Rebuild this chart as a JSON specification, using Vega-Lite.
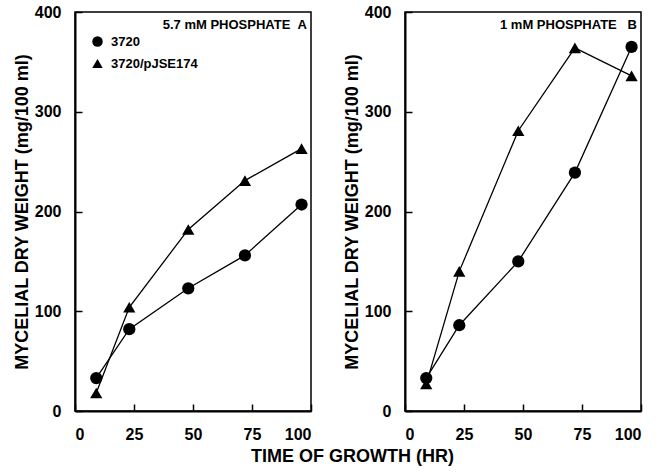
{
  "$schema": "https://vega.github.io/schema/vega-lite/v6.json",
  "background": "white",
  "padding": {"left": 12, "top": 3, "right": 5, "bottom": 5},
  "config": {
    "font": "Liberation Sans",
    "view": {"stroke": "black", "strokeWidth": 1.5},
    "axis": {
      "grid": false,
      "domainColor": "black",
      "domainWidth": 2,
      "tickColor": "black",
      "tickWidth": 1.5,
      "tickSize": -7,
      "labelFont": "Liberation Sans",
      "labelFontSize": 16,
      "labelFontWeight": "bold",
      "labelColor": "black",
      "titleFont": "Liberation Sans",
      "titleFontSize": 18,
      "titleFontWeight": "bold",
      "titleColor": "black"
    },
    "axisX": {"labelPadding": 22.5, "titlePadding": 5},
    "axisY": {"labelPadding": 21, "titlePadding": 3},
    "title": {"font": "Liberation Sans", "fontSize": 13, "fontWeight": "bold", "color": "black", "anchor": "end", "frame": "group", "offset": -28}
  },
  "bounds": "flush",
  "spacing": 94,
  "datasets": {
    "growth": [
      {"panel": "A", "strain": "3720", "time": 9, "weight": 33},
      {"panel": "A", "strain": "3720", "time": 23, "weight": 82},
      {"panel": "A", "strain": "3720", "time": 48, "weight": 123},
      {"panel": "A", "strain": "3720", "time": 72, "weight": 156},
      {"panel": "A", "strain": "3720", "time": 96, "weight": 207},
      {"panel": "A", "strain": "3720/pJSE174", "time": 9, "weight": 18},
      {"panel": "A", "strain": "3720/pJSE174", "time": 23, "weight": 104},
      {"panel": "A", "strain": "3720/pJSE174", "time": 48, "weight": 182},
      {"panel": "A", "strain": "3720/pJSE174", "time": 72, "weight": 231},
      {"panel": "A", "strain": "3720/pJSE174", "time": 96, "weight": 263},
      {"panel": "B", "strain": "3720", "time": 9, "weight": 33},
      {"panel": "B", "strain": "3720", "time": 23, "weight": 86},
      {"panel": "B", "strain": "3720", "time": 48, "weight": 150},
      {"panel": "B", "strain": "3720", "time": 72, "weight": 239},
      {"panel": "B", "strain": "3720", "time": 96, "weight": 365},
      {"panel": "B", "strain": "3720/pJSE174", "time": 9, "weight": 27},
      {"panel": "B", "strain": "3720/pJSE174", "time": 23, "weight": 140},
      {"panel": "B", "strain": "3720/pJSE174", "time": 48, "weight": 281},
      {"panel": "B", "strain": "3720/pJSE174", "time": 72, "weight": 364},
      {"panel": "B", "strain": "3720/pJSE174", "time": 96, "weight": 336}
    ]
  },
  "hconcat": [
    {
      "width": 236,
      "height": 399,
      "data": {"name": "growth"},
      "transform": [{"filter": "datum.panel === 'A'"}],
      "title": {"text": "5.7 mM PHOSPHATE\u00a0\u00a0A", "dx": -4},
      "encoding": {
        "x": {"field": "time", "type": "quantitative", "scale": {"domain": [0, 100]},
              "axis": {"values": [0, 25, 50, 75, 100], "title": "TIME OF GROWTH (HR)", "titleX": 277, "titleAlign": "center", "titleAnchor": null}},
        "y": {"field": "weight", "type": "quantitative", "scale": {"domain": [0, 400]},
              "axis": {"values": [0, 100, 200, 300, 400], "title": "MYCELIAL DRY WEIGHT (mg/100 ml)"}}
      },
      "layer": [
        {"mark": {"type": "line", "color": "black", "strokeWidth": 1.3},
         "encoding": {"detail": {"field": "strain", "type": "nominal"}}},
        {"mark": {"type": "point", "filled": true, "color": "black", "opacity": 1, "size": 150},
         "encoding": {"shape": {"field": "strain", "type": "nominal",
           "scale": {"domain": ["3720", "3720/pJSE174"], "range": ["circle", "triangle-up"]},
           "legend": {"title": null, "orient": "none", "legendX": 16, "legendY": 23,
             "labelFont": "Liberation Sans", "labelFontSize": 13, "labelFontWeight": "bold", "labelColor": "black",
             "symbolSize": 110, "symbolFillColor": "black", "symbolStrokeWidth": 0, "rowPadding": 8, "labelOffset": 7}}}}
      ]
    },
    {
      "width": 236,
      "height": 399,
      "data": {"name": "growth"},
      "transform": [{"filter": "datum.panel === 'B'"}],
      "title": {"text": "1 mM PHOSPHATE\u00a0\u00a0\u00a0B", "dx": -4},
      "encoding": {
        "x": {"field": "time", "type": "quantitative", "scale": {"domain": [0, 100]},
              "axis": {"values": [0, 25, 50, 75, 100], "title": null}},
        "y": {"field": "weight", "type": "quantitative", "scale": {"domain": [0, 400]},
              "axis": {"values": [0, 100, 200, 300, 400], "title": "MYCELIAL DRY WEIGHT (mg/100 ml)"}}
      },
      "layer": [
        {"mark": {"type": "line", "color": "black", "strokeWidth": 1.3},
         "encoding": {"detail": {"field": "strain", "type": "nominal"}}},
        {"mark": {"type": "point", "filled": true, "color": "black", "opacity": 1, "size": 150},
         "encoding": {"shape": {"field": "strain", "type": "nominal",
           "scale": {"domain": ["3720", "3720/pJSE174"], "range": ["circle", "triangle-up"]},
           "legend": null}}}
      ]
    }
  ],
  "resolve": {"scale": {"shape": "independent"}}
}
